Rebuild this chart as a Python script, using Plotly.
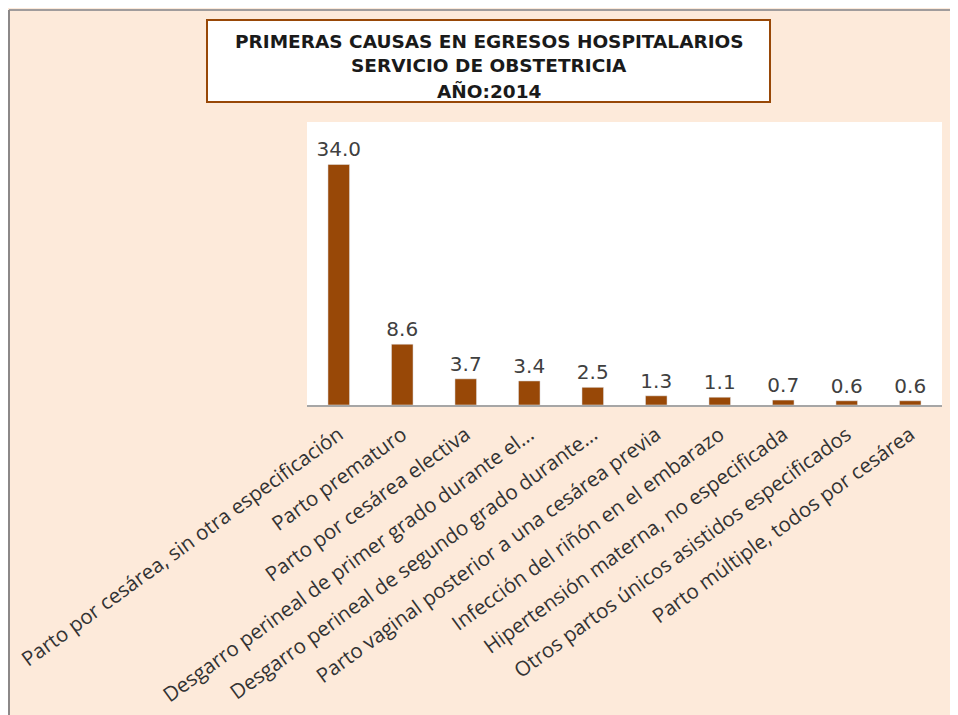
import plotly.graph_objects as go

categories = [
    "Parto por cesárea, sin otra especificación",
    "Parto prematuro",
    "Parto por cesárea electiva",
    "Desgarro perineal de primer grado durante el...",
    "Desgarro perineal de segundo grado durante...",
    "Parto vaginal posterior a una cesárea previa",
    "Infección del riñón en el embarazo",
    "Hipertensión materna, no especificada",
    "Otros partos únicos asistidos especificados",
    "Parto múltiple, todos por cesárea",
]
values = [34.0, 8.6, 3.7, 3.4, 2.5, 1.3, 1.1, 0.7, 0.6, 0.6]
title_lines = ["PRIMERAS CAUSAS EN EGRESOS HOSPITALARIOS", "SERVICIO DE OBSTETRICIA", "AÑO:2014"]

# page has an 8px body margin; work in reference-pixel coordinates
OFF = 8
W, H = 958 - OFF, 715 - OFF
L, R, T, B = 307 - OFF, 16, 122 - OFF, 310
pw, ph = W - L - R, H - T - B

def px_x(x):
    return (x - OFF - L) / pw

def px_y(y):
    return (H - B - (y - OFF)) / ph

fig = go.Figure(go.Bar(
    x=categories, y=values, width=0.34,
    marker=dict(color="#984807"),
    text=[f"{v:.1f}" for v in values], textposition="outside",
    textfont=dict(family="DejaVu Sans", size=20, color="#404040"),
    constraintext="none",
    cliponaxis=False,
))

fig.update_layout(
    width=W, height=H,
    margin=dict(l=L, r=R, t=T, b=B, autoexpand=False),
    paper_bgcolor="#FDEADA",
    plot_bgcolor="#FFFFFF",
    showlegend=False,
    xaxis=dict(tickangle=-36, tickfont=dict(family="Open Sans", size=20.5, color="#333333"),
               ticks="outside", ticklen=8, tickcolor="rgba(0,0,0,0)",
               showline=True, linecolor="#A6A6A6", linewidth=1.5, showgrid=False),
    yaxis=dict(range=[0, 40], visible=False, showgrid=False),
    shapes=[
        dict(type="rect", xref="paper", yref="paper",
             x0=px_x(207), x1=px_x(770), y0=px_y(102), y1=px_y(20),
             line=dict(color="#984807", width=2), fillcolor="#FFFFFF", layer="below"),
        dict(type="line", xref="paper", yref="paper",
             x0=px_x(9), x1=px_x(958), y0=px_y(10), y1=px_y(10),
             line=dict(color="#A09C9C", width=2)),
        dict(type="line", xref="paper", yref="paper",
             x0=px_x(9), x1=px_x(9), y0=px_y(10), y1=px_y(715),
             line=dict(color="#8C8888", width=2)),
    ],
    annotations=[
        dict(xref="paper", yref="paper", x=px_x(489), y=px_y(yc),
             xanchor="center", yanchor="middle", showarrow=False,
             text="<b>" + line + "</b>",
             font=dict(family="DejaVu Sans", size=18.5, color="#1a1a1a"))
        for line, yc in zip(title_lines, [41.5, 66, 90.5])
    ],
)

fig.write_html("out.html")
